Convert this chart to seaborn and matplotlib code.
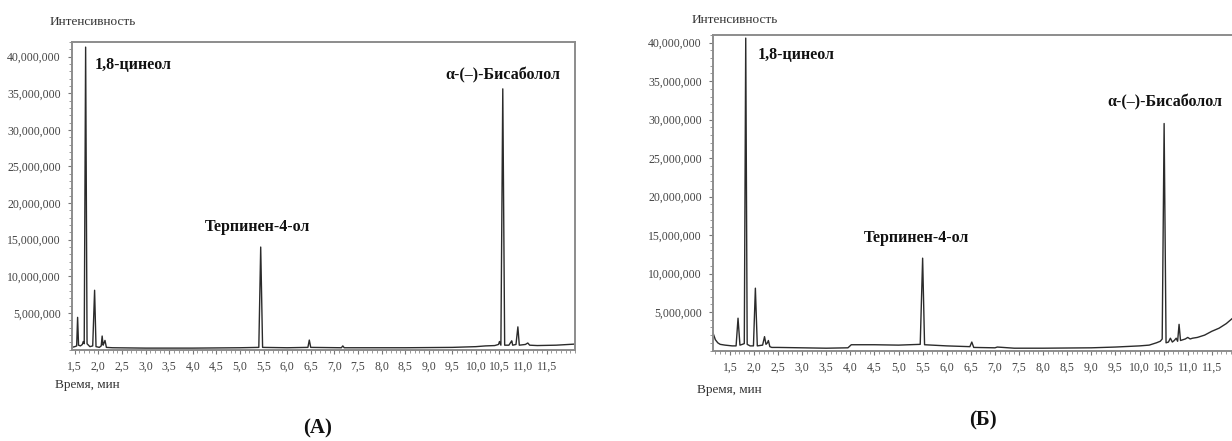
import matplotlib
matplotlib.use("Agg")
import matplotlib.pyplot as plt
import seaborn as sns
from matplotlib.ticker import FuncFormatter, MultipleLocator

# chromatogram A: time (min), intensity (millions)
time_a = [1.44, 1.50, 1.54, 1.56, 1.58, 1.62, 1.66, 1.68, 1.70, 1.73, 1.76,
          1.82, 1.88, 1.92, 1.95, 2.02, 2.06, 2.08, 2.10, 2.12, 2.14, 2.17,
          2.30, 3.00, 4.00, 5.00, 5.40, 5.44, 5.48, 6.00, 6.44, 6.47, 6.50,
          7.15, 7.18, 7.21, 8.50, 9.50, 10.00, 10.20, 10.40, 10.48, 10.50,
          10.53, 10.57, 10.61, 10.70, 10.74, 10.76, 10.78, 10.85, 10.89,
          10.92, 11.05, 11.10, 11.14, 11.30, 11.70, 12.10]
int_a = [0.3, 0.4, 0.5, 4.4, 0.6, 0.5, 0.7, 1.1, 0.8, 41.3, 0.8,
         0.4, 0.5, 8.1, 0.4, 0.3, 0.5, 1.85, 0.6, 0.9, 1.25, 0.3,
         0.25, 0.2, 0.2, 0.25, 0.3, 14.0, 0.3, 0.25, 0.3, 1.3, 0.3,
         0.25, 0.5, 0.25, 0.25, 0.3, 0.4, 0.5, 0.55, 0.7, 1.1,
         0.6, 35.6, 0.6, 0.6, 1.0, 1.2, 0.6, 0.7, 3.1,
         0.6, 0.7, 0.9, 0.6, 0.55, 0.6, 0.75]

# chromatogram B: time (min), intensity (millions)
time_b = [1.15, 1.20, 1.25, 1.30, 1.40, 1.55, 1.63, 1.67, 1.71, 1.76, 1.80,
          1.83, 1.86, 1.92, 1.99, 2.03, 2.07, 2.18, 2.22, 2.25, 2.28, 2.30,
          2.33, 2.37, 2.50, 3.00, 3.50, 3.95, 4.02, 4.50, 5.00, 5.45, 5.50,
          5.54, 6.00, 6.48, 6.52, 6.56, 7.00, 7.05, 7.40, 8.00, 9.00, 9.50,
          10.00, 10.20, 10.35, 10.43, 10.47, 10.51, 10.55, 10.60, 10.64,
          10.68, 10.72, 10.76, 10.79, 10.82, 10.85, 10.95, 11.00, 11.05,
          11.10, 11.20, 11.35, 11.50, 11.65, 11.80, 11.95, 12.05]
int_b = [2.3, 1.4, 1.0, 0.8, 0.7, 0.6, 0.6, 4.2, 0.7, 0.8, 0.9,
         40.6, 0.8, 0.6, 0.6, 8.1, 0.6, 0.7, 1.8, 0.8, 1.0, 1.3,
         0.5, 0.4, 0.4, 0.35, 0.3, 0.35, 0.75, 0.75, 0.7, 0.8, 12.0,
         0.75, 0.6, 0.5, 1.1, 0.4, 0.35, 0.45, 0.3, 0.3, 0.35, 0.45,
         0.6, 0.7, 1.0, 1.2, 1.5, 29.5, 1.0, 1.1, 1.6,
         1.1, 1.3, 1.6, 1.2, 3.4, 1.3, 1.5, 1.7, 1.5,
         1.6, 1.7, 2.0, 2.5, 2.9, 3.5, 4.3, 4.8]

labels = ["1,8-цинеол", "Терпинен-4-ол", "α-(–)-Бисаболол"]
# label anchor (time, intensity in millions) for each panel
label_pos_a = [(1.93, 38.8), (5.38, 16.7), (10.57, 37.4)]
label_pos_b = [(2.08, 38.4), (5.38, 14.6), (10.53, 32.3)]
label_ha = ["left", "center", "center"]

y_ticks = [5, 10, 15, 20, 25, 30, 35, 40]

sns.set_theme(style="white")
plt.rcParams["font.family"] = ["Liberation Serif", "DejaVu Serif"]

fig = plt.figure(figsize=(12.32, 4.41), dpi=100)
ax_a = fig.add_axes([0.0584, 0.2073, 0.4083, 0.6975])
ax_b = fig.add_axes([0.5787, 0.2052, 0.4245, 0.7154])

panels = [
    (ax_a, time_a, int_a, (1.44, 12.1), 42.0, label_pos_a),
    (ax_b, time_b, int_b, (1.15, 12.0), 41.0, label_pos_b),
]

for ax, t, v, xlim, ytop, lpos in panels:
    sns.lineplot(x=t, y=[i * 1e6 for i in v], ax=ax, color="#2b2b2b",
                 linewidth=1.0, estimator=None, sort=False)
    ax.set_xlim(*xlim)
    ax.set_ylim(0, ytop * 1e6)
    ax.set_xticks([1.5 + 0.5 * k for k in range(21)])
    ax.xaxis.set_minor_locator(MultipleLocator(0.1))
    ax.set_yticks([y * 1e6 for y in y_ticks])
    ax.yaxis.set_minor_locator(MultipleLocator(1e6))
    ax.xaxis.set_major_formatter(FuncFormatter(lambda x, p: f"{x:.1f}".replace(".", ",")))
    ax.yaxis.set_major_formatter(FuncFormatter(lambda y, p: f"{y:,.0f}"))
    ax.tick_params(axis="both", which="major", direction="out", length=3,
                   width=0.8, color="#777777", labelsize=8.5,
                   labelcolor="#444444", pad=5,
                   bottom=True, left=True)
    ax.tick_params(axis="both", which="minor", direction="out", length=2,
                   width=0.6, color="#888888", bottom=True, left=True)
    for s in ax.spines.values():
        s.set_color("#8c8c8c")
        s.set_linewidth(1.4)
    ax.set_xlabel("")
    ax.set_ylabel("")
    for txt, (x, y), ha in zip(labels, lpos, label_ha):
        ax.text(x, y * 1e6, txt, ha=ha, va="center", fontsize=11.5,
                fontweight="bold", color="#111111")

# axis titles and panel letters
for x0, y0, x1, y1, letter, lx, ly in [
    (50, 22, 55, 385, "(А)", 318, 428),
    (692, 20, 697, 390, "(Б)", 983, 420),
]:
    fig.text(x0 / 1232, 1 - y0 / 441, "Интенсивность", ha="left", va="center",
             fontsize=9.5, color="#333333")
    fig.text(x1 / 1232, 1 - y1 / 441, "Время, мин", ha="left", va="center",
             fontsize=9.5, color="#333333")
    fig.text(lx / 1232, 1 - ly / 441, letter, ha="center", va="center",
             fontsize=15, fontweight="bold", color="#111111")

fig.savefig("out.png", dpi=100)
plt.close(fig)
